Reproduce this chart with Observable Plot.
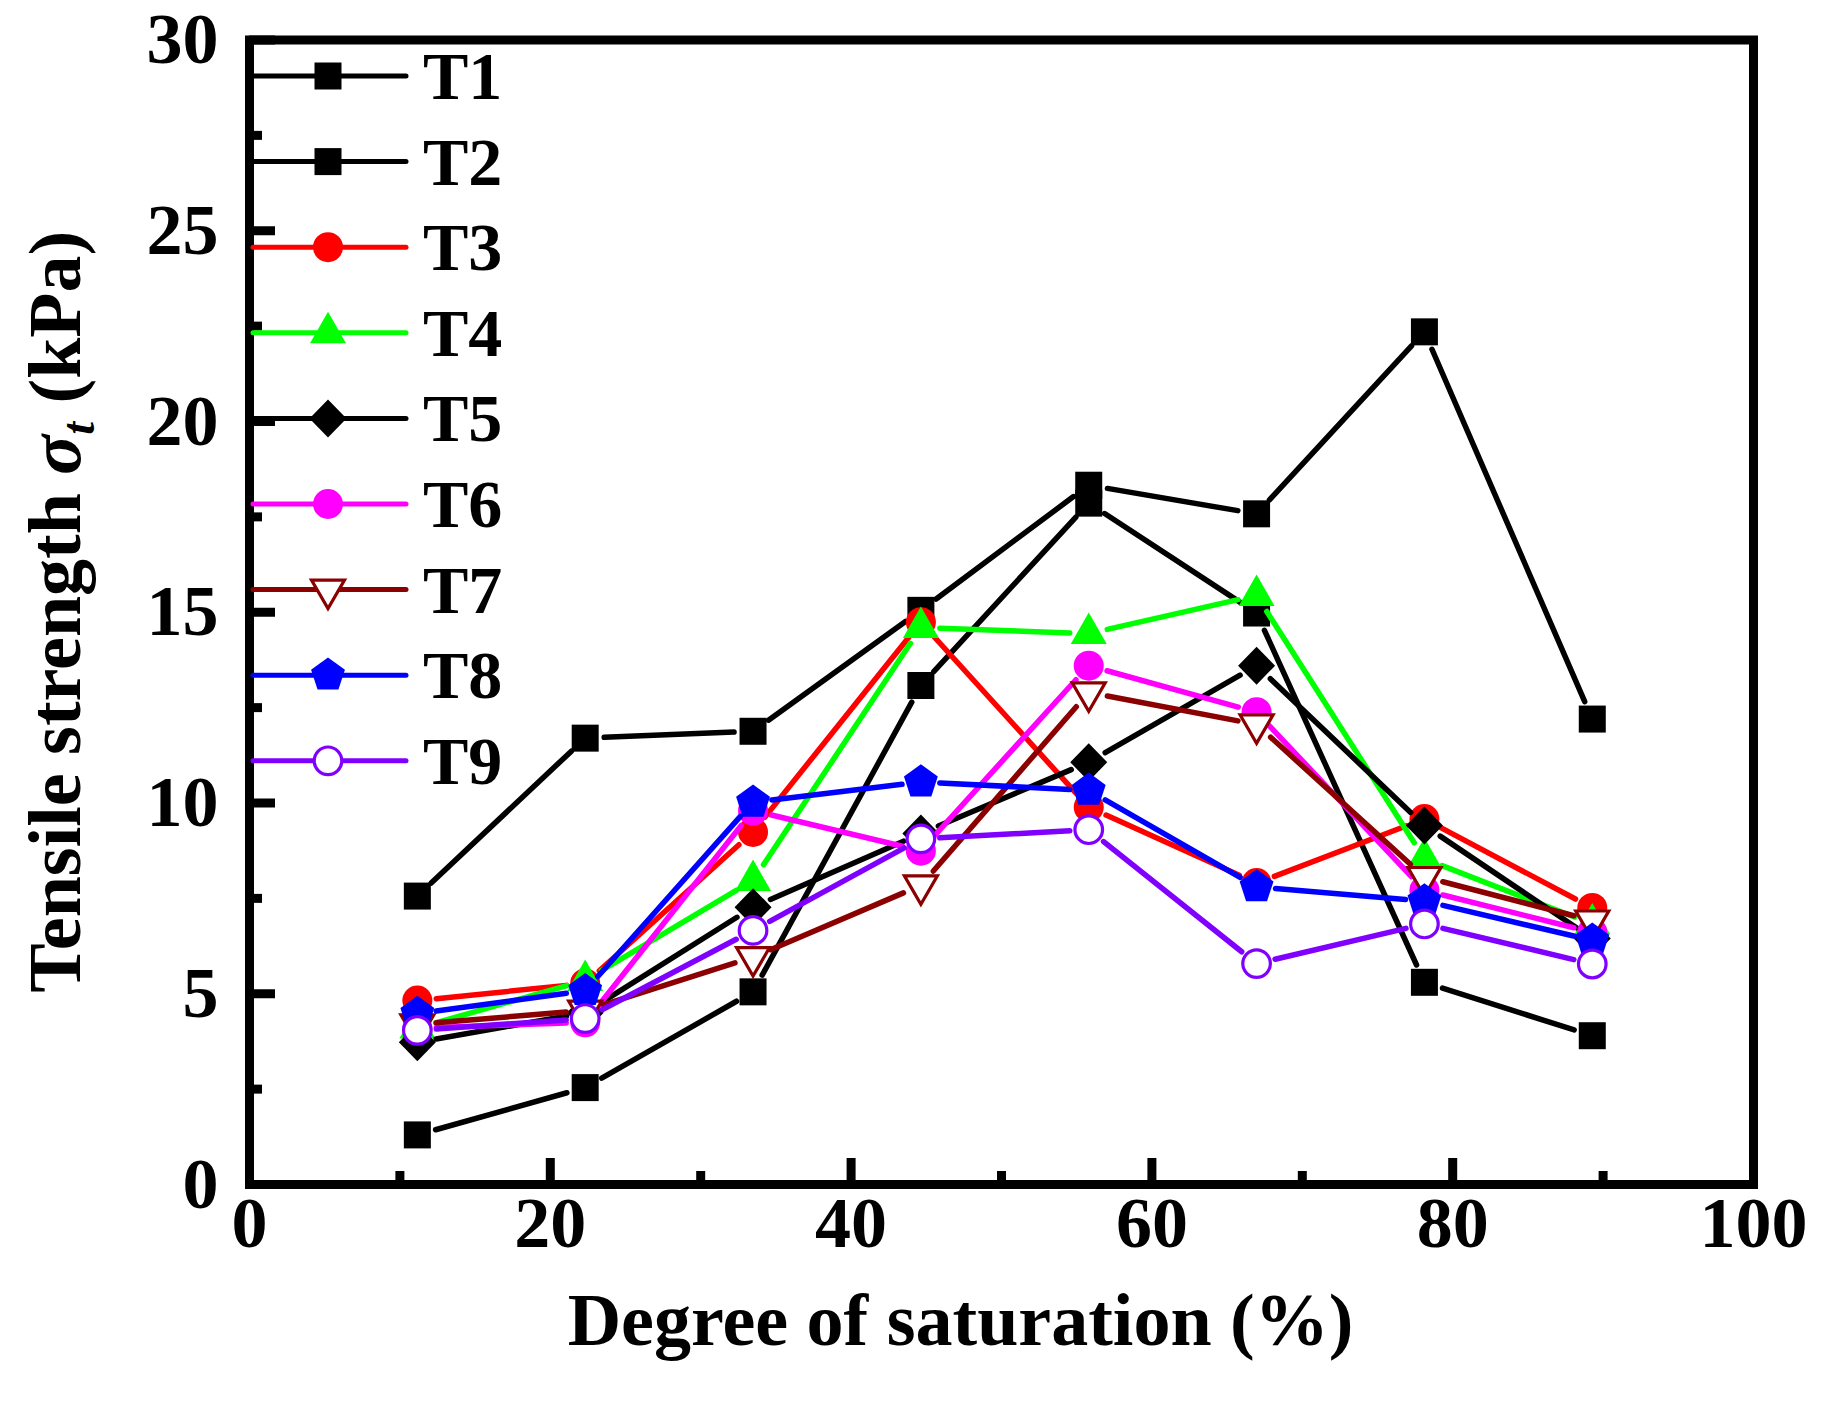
<!DOCTYPE html>
<html>
<head>
<meta charset="utf-8">
<script src="https://cdn.jsdelivr.net/npm/d3@7"></script>
<script src="https://cdn.jsdelivr.net/npm/@observablehq/plot@0.6"></script>
<style>
  html, body { margin: 0; padding: 0; background: #fff; }
  #chart svg { display: block; }
</style>
</head>
<body>
<div id="chart"></div>
<script>
// ---------- data ----------
const saturation = [11.16, 22.32, 33.48, 44.64, 55.8, 66.96, 78.12, 89.28];
const seriesNames = ["T1", "T2", "T3", "T4", "T5", "T6", "T7", "T8", "T9"];
const T1 = [7.56, 11.70, 11.88, 15.05, 18.33, 17.58, 22.35, 12.20];
const T2 = [1.30, 2.54, 5.05, 13.08, 17.86, 14.98, 5.30, 3.90];
const T3 = [4.82, 5.27, 9.24, 14.74, 9.89, 7.90, 9.58, 7.25];
const T4 = [4.10, 5.35, 7.97, 14.60, 14.44, 15.44, 8.54, 6.83];
const T5 = [3.73, 4.50, 7.27, 9.20, 11.07, 13.60, 9.41, 6.45];
const T6 = [4.10, 4.25, 9.80, 8.75, 13.60, 12.38, 7.71, 6.61];
const T7 = [4.20, 4.56, 5.96, 7.84, 12.90, 12.06, 8.06, 6.92];
const T8 = [4.48, 5.08, 10.02, 10.55, 10.33, 7.80, 7.43, 6.40];
const T9 = [4.04, 4.35, 6.66, 9.06, 9.30, 5.79, 6.83, 5.78];
const seriesValues = [T1, T2, T3, T4, T5, T6, T7, T8, T9];

const xTicksMajor = [0, 20, 40, 60, 80, 100];
const xTicksMinor = [10, 30, 50, 70, 90];
const yTicksMajor = [0, 5, 10, 15, 20, 25, 30];
const yTicksMinor = [2.5, 7.5, 12.5, 17.5, 22.5, 27.5];
const xTitle = "Degree of saturation (%)";
const yTitleMain = "Tensile strength ";
const yTitleSymbol = "σ";
const yTitleSub = "t";
const yTitleUnit = " (kPa)";

// ---------- styles ----------
const seriesColors = ["#000000", "#000000", "#FF0000", "#00FF00", "#000000", "#FF00FF", "#8B0000", "#0000FF", "#8000FF"];
const seriesSymbols = ["square", "square", "circle", "triUp", "diamond", "circle", "triDown", "pentagon", "ring"];
const seriesOpen = [false, false, false, false, false, false, true, false, true];

const FONT = "'Liberation Serif', 'Times New Roman', serif";

const sym = {
  square: { draw(c) { c.rect(-13.5, -13.5, 27, 27); } },
  circle: { draw(c) { c.moveTo(15, 0); c.arc(0, 0, 15, 0, 2 * Math.PI); c.closePath(); } },
  triUp: { draw(c) { c.moveTo(0, -21); c.lineTo(18, 10.5); c.lineTo(-18, 10.5); c.closePath(); } },
  diamond: { draw(c) { c.moveTo(0, -19); c.lineTo(18.5, 0); c.lineTo(0, 19); c.lineTo(-18.5, 0); c.closePath(); } },
  triDown: { draw(c) { c.moveTo(-16.5, -9.5); c.lineTo(16.5, -9.5); c.lineTo(0, 19); c.closePath(); } },
  pentagon: { draw(c) {
    const R = 17.8;
    for (let k = 0; k < 5; k++) {
      const a = -Math.PI / 2 + k * 2 * Math.PI / 5;
      const px = R * Math.cos(a), py = R * Math.sin(a);
      if (k) c.lineTo(px, py); else c.moveTo(px, py);
    }
    c.closePath();
  } },
  ring: { draw(c) { c.moveTo(13.8, 0); c.arc(0, 0, 13.8, 0, 2 * Math.PI); c.closePath(); } }
};

const W = 1831, H = 1402;
const mL = 249, mR = 78, mT = 39.5, mB = 218;
const frameW = W - mL - mR, frameH = H - mT - mB;

const marks = [];
seriesValues.forEach((vals, i) => {
  const color = seriesColors[i];
  const open = seriesOpen[i];
  const pts = saturation.map((x, j) => ({ x, y: vals[j] }));
  const segs = pts.slice(1).map((p, j) => ({ x1: pts[j].x, y1: pts[j].y, x2: p.x, y2: p.y }));
  marks.push(Plot.arrow(segs, {
    x1: "x1", y1: "y1", x2: "x2", y2: "y2",
    stroke: color, strokeWidth: 5.5, headLength: 0,
    insetStart: 19, insetEnd: 19, strokeLinecap: "round"
  }));
  marks.push(Plot.dot(pts, {
    x: "x", y: "y", symbol: sym[seriesSymbols[i]],
    fill: open ? "#ffffff" : color,
    stroke: open ? color : "none",
    strokeWidth: open ? 3.2 : 0
  }));
});

// ticks (inward)
marks.push(Plot.tickX(xTicksMajor, { x: d => d, stroke: "black", strokeWidth: 9, insetTop: frameH - 26 }));
marks.push(Plot.tickX(xTicksMinor, { x: d => d, stroke: "black", strokeWidth: 9, insetTop: frameH - 13 }));
marks.push(Plot.tickY(yTicksMajor, { y: d => d, stroke: "black", strokeWidth: 9, insetRight: frameW - 26 }));
marks.push(Plot.tickY(yTicksMinor, { y: d => d, stroke: "black", strokeWidth: 9, insetRight: frameW - 13 }));
marks.push(Plot.frame({ stroke: "black", strokeWidth: 9 }));

// tick labels
marks.push(Plot.text(xTicksMajor, {
  x: d => d, frameAnchor: "bottom", dy: 62, text: d => String(d),
  fontSize: 72, fontWeight: "bold", fontFamily: FONT, fill: "black", textAnchor: "middle"
}));
marks.push(Plot.text(yTicksMajor, {
  y: d => d, frameAnchor: "left", dx: -31, text: d => String(d),
  fontSize: 72, fontWeight: "bold", fontFamily: FONT, fill: "black", textAnchor: "end"
}));
// x title
marks.push(Plot.text([xTitle], {
  frameAnchor: "bottom", dx: -41, dy: 160, text: d => d,
  fontSize: 74, fontWeight: "bold", fontFamily: FONT, fill: "black", textAnchor: "middle"
}));

const svg = Plot.plot({
  width: W, height: H,
  marginLeft: mL, marginRight: mR, marginTop: mT, marginBottom: mB,
  x: { domain: [0, 100], axis: null },
  y: { domain: [0, 30], axis: null },
  style: { background: "#ffffff", fontFamily: FONT },
  marks
});

// y title with italic sigma and subscript t
const yt = d3.select(svg).append("text")
  .attr("transform", `translate(80,${mT + frameH / 2}) rotate(-90)`)
  .attr("text-anchor", "middle")
  .attr("font-family", FONT).attr("font-weight", "bold").attr("font-size", 74)
  .attr("fill", "black");
yt.append("tspan").text(yTitleMain);
yt.append("tspan").attr("font-style", "italic").text(yTitleSymbol);
yt.append("tspan").attr("font-style", "italic").attr("font-size", 46).attr("dy", 14).text(yTitleSub);
yt.append("tspan").attr("dy", -14).text(yTitleUnit);

// legend
const lg = d3.select(svg).append("g");
seriesNames.forEach((name, i) => {
  const yy = 76 + 85.6 * i;
  const color = seriesColors[i];
  const open = seriesOpen[i];
  lg.append("line").attr("x1", 253).attr("x2", 406).attr("y1", yy).attr("y2", yy)
    .attr("stroke", color).attr("stroke-width", 5).attr("stroke-linecap", "round");
  lg.append("path").attr("d", d3.symbol(sym[seriesSymbols[i]])())
    .attr("transform", `translate(328,${yy})`)
    .attr("fill", open ? "#ffffff" : color)
    .attr("stroke", open ? color : "none")
    .attr("stroke-width", open ? 3.2 : 0);
  lg.append("text").attr("x", 423).attr("y", yy + 23).text(name)
    .attr("text-anchor", "start")
    .attr("font-family", FONT).attr("font-weight", "bold").attr("font-size", 68).attr("fill", "black");
});

document.getElementById("chart").appendChild(svg);
</script>
</body>
</html>
